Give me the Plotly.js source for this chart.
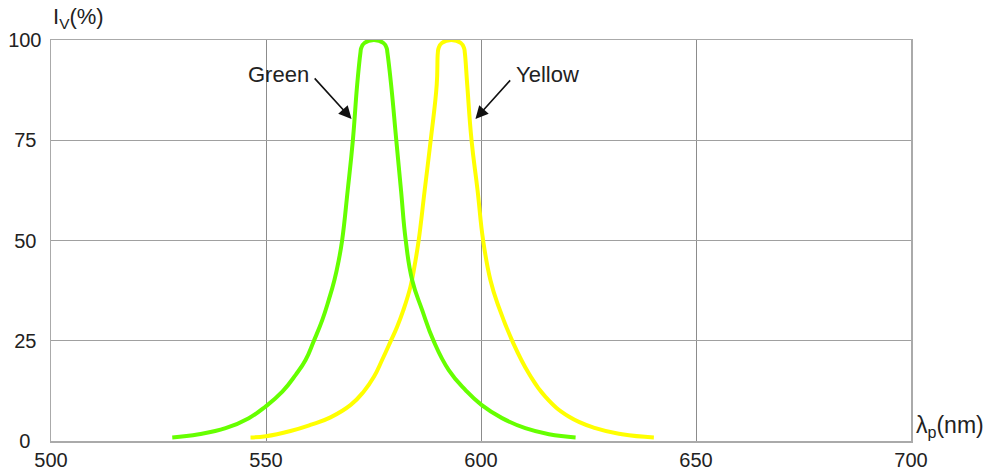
<!DOCTYPE html>
<html>
<head>
<meta charset="utf-8">
<script src="https://cdn.plot.ly/plotly-3.0.1.min.js"></script>
<style>html,body{margin:0;padding:0;background:#fff;}#chart{width:991px;height:472px;}</style>
</head>
<body>
<div id="chart"></div>
<script>
// Wavelength (nm) and relative intensity (%)
const greenX = [528.2, 534.4, 540.6, 546.0, 549.9, 553.8, 556.9, 559.2, 561.1, 563.1, 564.6, 565.9, 566.9, 567.7, 569.0, 570.2, 571.2, 571.96, 572.15, 572.89, 575.1, 577.31, 578.05, 578.24, 579.1, 580.3, 581.4, 582.5, 584.0, 586.3, 589.0, 592.5, 596.4, 600.1, 604.9, 610.3, 615.8, 622.0];
const greenY = [0.9, 1.7, 3.2, 5.7, 8.6, 12.3, 16.5, 20.2, 24.9, 30.2, 35.2, 40.1, 45, 50, 62.5, 75, 88.8, 96.8, 98.0, 99.25, 100, 99.25, 98.0, 96.8, 88.8, 75, 62.5, 50, 40.1, 32.7, 24.9, 17.7, 12.7, 9.0, 5.7, 3.2, 1.7, 0.9];
const yellowX = [546.4, 550.0, 555.7, 560.3, 565.0, 569.7, 572.7, 575.1, 577.0, 579.0, 580.5, 581.9, 583.6, 584.6, 585.5, 586.9, 588.3, 589.7, 589.96, 590.15, 590.89, 593.1, 595.31, 596.05, 596.24, 596.8, 597.8, 599.2, 600.5, 602.2, 604.1, 607.3, 611.1, 615.0, 620.4, 626.6, 632.8, 640.2];
const yellowY = [0.9, 1.2, 2.5, 4.0, 5.9, 9.0, 12.3, 16.0, 20.2, 24.9, 28.5, 32.5, 38.5, 44, 50, 62.5, 75, 88.8, 96.8, 98.0, 99.25, 100, 99.25, 98.0, 96.8, 88.8, 75, 62.5, 50, 40.1, 33.5, 24.9, 16.9, 11.0, 6.1, 3.2, 1.7, 0.9];

const xTicks = [500, 550, 600, 650, 700];
const yTicks = [0, 25, 50, 75, 100];
const yTickText = ['0\u2007', '25\u2005', '50\u2005', '75\u2005', '100'];

const labelGreen = 'Green';
const labelYellow = 'Yellow';
const yTitle = 'I<sub>V</sub>(%)';
const xTitle = '\u03bb<sub>p</sub>(nm)';

const font = {family: 'Liberation Sans, Arial, sans-serif', size: 20, color: '#222'};
const bigFont = {family: 'Liberation Sans, Arial, sans-serif', size: 22, color: '#222'};

const traces = [
  {x: yellowX, y: yellowY, type: 'scatter', mode: 'lines', line: {color: '#ffff00', width: 4, shape: 'spline', smoothing: 1.3}, hoverinfo: 'skip'},
  {x: greenX, y: greenY, type: 'scatter', mode: 'lines', line: {color: '#66ff00', width: 4, shape: 'spline', smoothing: 1.3}, hoverinfo: 'skip'}
];

const layout = {
  width: 991, height: 472,
  margin: {l: 51, r: 80, t: 40, b: 31},
  paper_bgcolor: '#fff', plot_bgcolor: '#fff',
  showlegend: false,
  font: font,
  xaxis: {
    range: [500, 700], tickvals: xTicks, ticks: '', showgrid: true, gridcolor: '#8c8c8c', gridwidth: 1,
    zeroline: false, showline: true, linecolor: '#aaaaaa', linewidth: 1.5, mirror: true, fixedrange: true,
    tickfont: font
  },
  yaxis: {
    range: [0, 100], tickvals: yTicks, ticktext: yTickText, ticks: '', showgrid: true, gridcolor: '#a0a0a0', gridwidth: 1,
    zeroline: false, showline: true, linecolor: '#aaaaaa', linewidth: 1.5, mirror: true, fixedrange: true,
    tickfont: font, ticklabelstandoff: 4
  },
  annotations: [
    {x: 569.9, y: 80.3, ax: 561.0, ay: 90.8, axref: 'x', ayref: 'y', xref: 'x', yref: 'y', text: '', showarrow: true, arrowhead: 2, arrowsize: 1.6, arrowwidth: 1.6, arrowcolor: '#111'},
    {x: 598.7, y: 80.3, ax: 607.1, ay: 90.3, axref: 'x', ayref: 'y', xref: 'x', yref: 'y', text: '', showarrow: true, arrowhead: 2, arrowsize: 1.6, arrowwidth: 1.6, arrowcolor: '#111'},
    {x: 560.4, y: 91.3, xref: 'x', yref: 'y', text: labelGreen, showarrow: false, xanchor: 'right', yanchor: 'middle', font: bigFont},
    {x: 607.6, y: 91.5, xref: 'x', yref: 'y', text: labelYellow, showarrow: false, xanchor: 'left', yanchor: 'middle', font: bigFont},
    {x: 0.0, y: 1.055, xref: 'paper', yref: 'paper', text: yTitle, showarrow: false, xanchor: 'left', yanchor: 'middle', font: bigFont},
    {x: 1.003, y: 0.035, xref: 'paper', yref: 'paper', text: xTitle, showarrow: false, xanchor: 'left', yanchor: 'middle', font: {family: bigFont.family, size: 23, color: '#222'}}
  ]
};

Plotly.newPlot('chart', traces, layout, {staticPlot: true, displayModeBar: false});
</script>
</body>
</html>
